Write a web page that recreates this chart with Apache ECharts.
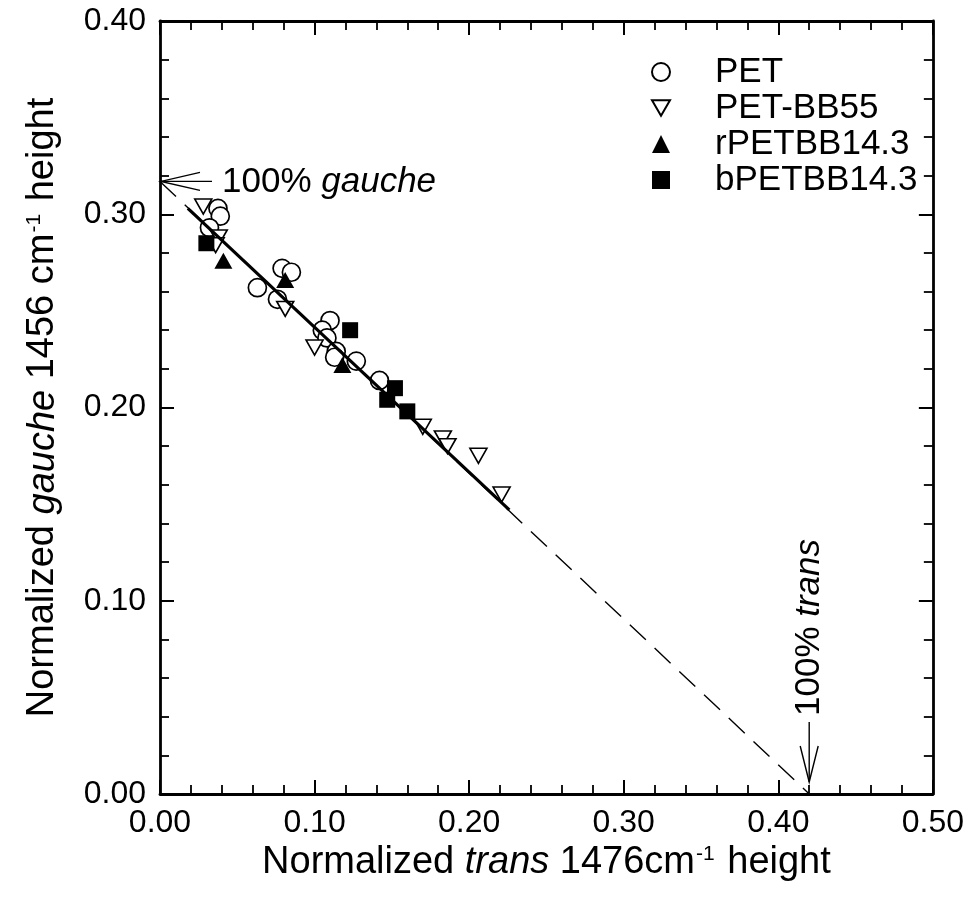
<!DOCTYPE html>
<html><head><meta charset="utf-8">
<script src="https://cdn.jsdelivr.net/npm/echarts@6/dist/echarts.min.js"></script>
<style>html,body{margin:0;padding:0;background:#fff}#c{width:967px;height:908px}</style>
</head><body><div id="c"></div>
<script>
// ---- data ----
const seriesNames = ['PET', 'PET-BB55', 'rPETBB14.3', 'bPETBB14.3'];
const pet = [[0.0375,0.303],[0.039,0.299],[0.032,0.293],[0.079,0.272],[0.085,0.270],[0.063,0.262],
  [0.076,0.256],[0.110,0.245],[0.105,0.240],[0.108,0.236],[0.114,0.229],[0.113,0.226],[0.127,0.224],[0.142,0.214]];
const petBB55 = [[0.028,0.304],[0.038,0.288],[0.036,0.284],[0.081,0.251],[0.100,0.231],[0.170,0.190],
  [0.183,0.184],[0.186,0.180],[0.206,0.175],[0.221,0.155]];
const rPETBB = [[0.041,0.276],[0.081,0.266],[0.118,0.222]];
const bPETBB = [[0.030,0.285],[0.123,0.240],[0.152,0.210],[0.147,0.204],[0.160,0.198]];
const fitLine = [[0.018,0.303],[0.226,0.147]];
const idealLine = [[0,0.317],[0.42,0]];
const gauchePoint = [0, 0.317];
const transPoint = [0.42, 0];
const xTickValues = [0, 0.1, 0.2, 0.3, 0.4, 0.5];
const yTickValues = [0, 0.1, 0.2, 0.3, 0.4];

// ---- chart ----
const FONT = '"Liberation Sans", Arial, Helvetica, sans-serif';
const chart = echarts.init(document.getElementById('c'), null, {renderer: 'canvas'});
const axisCommon = {
  type: 'value',
  axisLine: {show: true, onZero: false, lineStyle: {color: '#000', width: 2.8}},
  axisTick: {show: true, inside: true, length: 14, lineStyle: {color: '#000', width: 2}},
  minorTick: {show: true, splitNumber: 5, length: 9, lineStyle: {color: '#000', width: 1.8}},
  splitLine: {show: false},
  minorSplitLine: {show: false}
};
const fmt = v => v.toFixed(2);
const downTri = 'path://M0,0L10,0L5,8.66Z';
const titleStyle = {color: '#000', fontFamily: FONT, fontSize: 38,
  rich: {i: {fontStyle: 'italic', fontFamily: FONT, fontSize: 38, color: '#000'},
         s: {fontSize: 21, fontFamily: FONT, color: '#000', verticalAlign: 'top', padding: [0, 2, 0, 1]}}};

chart.setOption({
  animation: false,
  backgroundColor: '#fff',
  grid: {left: 160, top: 21, right: 34, bottom: 114, containLabel: false},
  xAxis: [
    Object.assign({}, axisCommon, {
      min: xTickValues[0], max: xTickValues[xTickValues.length - 1], interval: 0.1, position: 'bottom',
      axisLabel: {show: true, formatter: fmt, color: '#000', fontFamily: FONT, fontSize: 32, margin: 13},
      name: 'Normalized {i|trans} 1476cm{s|-1} height', nameLocation: 'middle', nameGap: 48,
      nameTextStyle: titleStyle
    }),
    Object.assign({}, axisCommon, {
      min: xTickValues[0], max: xTickValues[xTickValues.length - 1], interval: 0.1, position: 'top',
      axisLabel: {show: false}
    })
  ],
  yAxis: [
    Object.assign({}, axisCommon, {
      min: yTickValues[0], max: yTickValues[yTickValues.length - 1], interval: 0.1, position: 'left',
      axisLabel: {show: true, formatter: fmt, color: '#000', fontFamily: FONT, fontSize: 32, margin: 14},
      name: 'Normalized {i|gauche} 1456 cm{s|-1} height', nameLocation: 'middle', nameGap: 98, nameRotate: 90,
      nameTextStyle: titleStyle
    }),
    Object.assign({}, axisCommon, {
      min: yTickValues[0], max: yTickValues[yTickValues.length - 1], interval: 0.1, position: 'right',
      axisLabel: {show: false}
    })
  ],
  legend: {
    orient: 'vertical', left: 646, top: 49, itemWidth: 18, itemHeight: 18, itemGap: 0,
    selectedMode: false, data: seriesNames,
    textStyle: {color: '#000', fontFamily: FONT, fontSize: 35, lineHeight: 36, padding: [0, 0, 0, 40]}
  },
  series: [
    {name: seriesNames[0], type: 'scatter', data: pet, symbol: 'circle', symbolSize: 18, z: 3,
     itemStyle: {color: '#fff', borderColor: '#000', borderWidth: 1.7, opacity: 1}},
    {name: seriesNames[1], type: 'scatter', data: petBB55, symbol: downTri, symbolSize: [17, 15], z: 3,
     itemStyle: {color: '#fff', borderColor: '#000', borderWidth: 1.6, opacity: 1}},
    {name: seriesNames[2], type: 'scatter', data: rPETBB, symbol: 'triangle', symbolSize: [18, 16], z: 3,
     itemStyle: {color: '#000', borderColor: '#000', borderWidth: 0, opacity: 1}},
    {name: seriesNames[3], type: 'scatter', data: bPETBB, symbol: 'rect', symbolSize: 16, z: 3,
     itemStyle: {color: '#000', borderColor: '#000', borderWidth: 0, opacity: 1}},
    {name: 'ideal', type: 'line', data: idealLine, symbol: 'none', z: 2,
     lineStyle: {color: '#000', width: 1.4, type: [22, 12]}},
    {name: 'fit', type: 'line', data: fitLine, symbol: 'none', z: 4,
     lineStyle: {color: '#000', width: 3.2}}
  ]
});

// annotations positioned through the chart's own scales
const g = chart.convertToPixel({gridIndex: 0}, gauchePoint);
const t = chart.convertToPixel({gridIndex: 0}, transPoint);
const tipT = [t[0], t[1] - 12];
const annFont = 35;
chart.setOption({
  graphic: [
    {type: 'polyline', z: 10, shape: {points: [[g[0] + 40, g[1] - 9], [g[0] + 1, g[1]], [g[0] + 40, g[1] + 9]]},
     style: {stroke: '#000', lineWidth: 1.4, fill: null}},
    {type: 'line', z: 10, shape: {x1: g[0] + 1, y1: g[1], x2: g[0] + 52, y2: g[1]},
     style: {stroke: '#000', lineWidth: 1.4}},
    {type: 'text', z: 10, x: g[0] + 62, y: g[1] + 1,
     style: {text: '100% {i|gauche}', fontFamily: FONT, fontSize: annFont, fill: '#000', verticalAlign: 'middle', align: 'left',
       rich: {i: {fontStyle: 'italic', fontFamily: FONT, fontSize: annFont, fill: '#000'}}}},
    {type: 'polyline', z: 10, shape: {points: [[tipT[0] - 9, tipT[1] - 36], [tipT[0], tipT[1]], [tipT[0] + 9, tipT[1] - 36]]},
     style: {stroke: '#000', lineWidth: 1.4, fill: null}},
    {type: 'line', z: 10, shape: {x1: tipT[0], y1: tipT[1], x2: tipT[0], y2: tipT[1] - 60},
     style: {stroke: '#000', lineWidth: 1.4}},
    {type: 'text', z: 10, x: tipT[0], y: tipT[1] - 66, rotation: Math.PI / 2,
     style: {text: '100% {i|trans}', fontFamily: FONT, fontSize: annFont, fill: '#000', verticalAlign: 'middle', align: 'left',
       rich: {i: {fontStyle: 'italic', fontFamily: FONT, fontSize: annFont, fill: '#000'}}}}
  ]
});
</script></body></html>
